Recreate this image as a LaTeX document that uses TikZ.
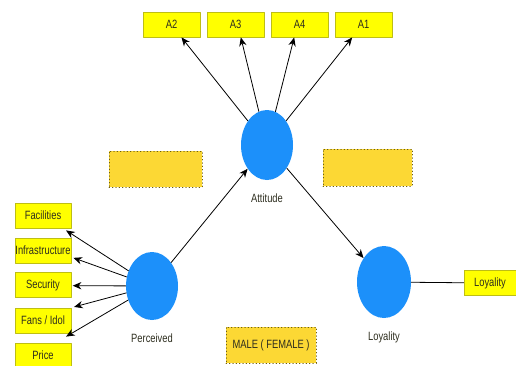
\documentclass[tikz,border=0pt]{standalone}
\usepackage{fontspec}
\newfontfamily\lblfont[FakeStretch=0.78]{Liberation Sans}
\usetikzlibrary{arrows.meta,shapes.geometric}
\definecolor{ballblue}{RGB}{28,144,250}
\definecolor{boxyellow}{RGB}{255,255,0}
\definecolor{boxedge}{RGB}{190,190,20}
\definecolor{boxgold}{RGB}{252,216,52}
\definecolor{goldedge}{RGB}{110,95,20}
\definecolor{txtdark}{RGB}{45,45,30}
\tikzset{
	ind/.style={draw=boxedge,fill=boxyellow,line width=0.6pt,minimum height=18.75pt,inner sep=0pt,text=txtdark,font=\lblfont\fontsize{9}{10}\selectfont},
	mod/.style={draw=goldedge,fill=boxgold,dotted,line width=0.5pt,minimum height=27pt,inner sep=0pt,text=txtdark,font=\lblfont\fontsize{9}{10}\selectfont},
	lv/.style={ellipse,fill=ballblue,inner sep=0pt},
	lvname/.style={text=txtdark,font=\lblfont\fontsize{9}{10}\selectfont}
}
\begin{document}
\begin{tikzpicture}[line cap=round,line join=round,>={Stealth[length=6.5pt,width=5.5pt]},x=0.75pt,y=-0.75pt]
		\useasboundingbox (0,0) rectangle (516,365);
		\clip (0,0) rectangle (516,365);
		% latent variables
		\node[lv,minimum width=39pt,minimum height=52.5pt] (att) at (267,145) {};
		\node[lv,minimum width=39pt,minimum height=51pt] (perc) at (152,286) {};
		\node[lv,minimum width=40.5pt,minimum height=54pt] (loy) at (384,282) {};
		\node[lvname] (attname) at (267,198) {Attitude};
		\node[lvname] (percname) at (152,338) {Perceived};
		\node[lvname] (loyname) at (384,337) {Loyality};
		% indicators
		\node[ind,minimum width=42.75pt] (a2) at (171.5,24.5) {A2};
		\node[ind,minimum width=42.75pt] (a3) at (235.5,24.5) {A3};
		\node[ind,minimum width=42.75pt] (a4) at (299.5,24.5) {A4};
		\node[ind,minimum width=42.75pt] (a1) at (363.5,24.5) {A1};
		\node[ind,minimum width=42pt] (fac) at (43,215.5) {Facilities};
		\node[ind,minimum width=42pt] (inf) at (43,250.5) {Infrastructure};
		\node[ind,minimum width=42pt] (sec) at (43,285) {Security};
		\node[ind,minimum width=42pt] (fan) at (43,320.5) {Fans / Idol};
		\node[ind,minimum width=42pt] (pri) at (43,355.5) {Price};
		\node[ind,minimum width=39pt] (loyind) at (490,283) {Loyality};
		% moderator boxes
		\node[mod,minimum width=69.75pt] (modl) at (155.5,169) {};
		\node[mod,minimum width=66.75pt,minimum height=27.75pt] (modr) at (367.5,167.5) {};
		\node[mod,minimum width=67.5pt] (sex) at (271,345) {MALE ( FEMALE )};
		% paths
		\draw[->,line width=0.6pt] (att) -- ([xshift=7.5pt]a2.south);
		\draw[->,line width=0.6pt] (att) -- ([xshift=4pt]a3.south);
		\draw[->,line width=0.6pt] (att) -- ([xshift=-4pt]a4.south);
		\draw[->,line width=0.6pt] (att) -- ([xshift=-8.5pt]a1.south);
		\draw[->,line width=0.6pt] (perc) -- (att);
		\draw[->,line width=0.6pt] (att) -- (loy);
		\draw[->,line width=0.6pt] (perc) -- ([xshift=-4pt,yshift=-1.5pt]fac.south east);
		\draw[->,line width=0.6pt] (perc) -- ([xshift=1.5pt,yshift=-5.5pt]inf.east);
		\draw[->,line width=0.6pt] (perc) -- ([xshift=1pt,yshift=-0.5pt]sec.east);
		\draw[->,line width=0.6pt] (perc) -- ([xshift=2pt,yshift=0.5pt]fan.north east);
		\draw[->,line width=0.6pt] (perc) -- ([xshift=-4pt,yshift=4.5pt]pri.north east);
		\draw[line width=0.6pt] (loy) -- (loyind);
	\end{tikzpicture}
\end{document}
